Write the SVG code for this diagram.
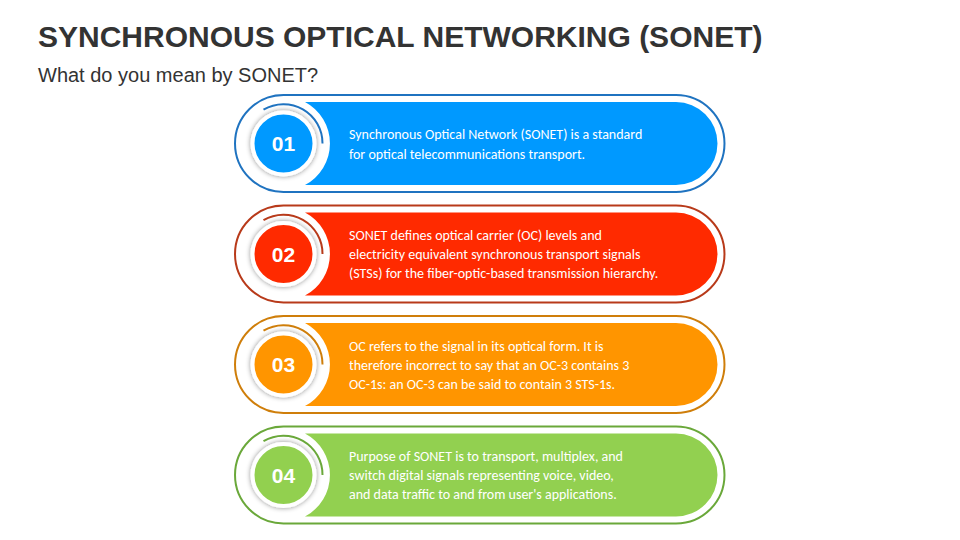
<svg xmlns="http://www.w3.org/2000/svg" width="960" height="540" viewBox="0 0 960 540">
<defs>
<filter id="sh" x="-30%" y="-30%" width="160%" height="160%"><feDropShadow dx="0" dy="0" stdDeviation="2.5" flood-color="#000" flood-opacity="0.45"/></filter>
<path id="band" d="M305,-41.5 H676 A41.5,41.5 0 0 1 676,41.5 H305 A47,47 0 0 0 305,-41.5 Z"/>
<path id="outline" d="M283.5,-48.5 H676 A48.5,48.5 0 0 1 676,48.5 H283.5 A48.5,48.5 0 0 1 283.5,-48.5 Z"/>
</defs>
<style>
.t{font-family:"Liberation Sans",Arial,sans-serif;}
.d{font-family:Calibri,"Liberation Sans",Arial,sans-serif;font-size:14px;fill:#fff;}
.n{font-family:"Liberation Sans",Arial,sans-serif;font-size:21px;font-weight:bold;fill:#fff;text-anchor:middle;}
.ol{fill:none;stroke-width:2;}
</style>
<rect width="960" height="540" fill="#fff"/>
<text class="t" x="38" y="47" font-size="30" font-weight="bold" fill="#333">SYNCHRONOUS OPTICAL NETWORKING (SONET)</text>
<text class="t" x="38" y="82" font-size="20" fill="#333">What do you mean by SONET?</text>
<g id="connectors"></g>
<g id="n1" transform="translate(0,143.5)">
<use href="#outline" class="ol" stroke="#1f73c0"/>
<use href="#band" fill="#0099ff"/>
<path d="M263.5,-33.8 A39,39 0 0 1 322.5,0" fill="none" stroke="#1f73c0" stroke-width="2"/>
<circle cx="283.5" cy="0" r="31" fill="#0099ff" stroke="#fff" stroke-width="4" filter="url(#sh)"/>
<text class="n" x="283.5" y="7.5">01</text>
<text class="d" x="349" y="-5">Synchronous Optical Network (SONET) is a standard</text>
<text class="d" x="349" y="15">for optical telecommunications transport.</text>
</g>
<g id="n2" transform="translate(0,254)">
<use href="#outline" class="ol" stroke="#b83a1a"/>
<use href="#band" fill="#ff2a00"/>
<path d="M263.5,-33.8 A39,39 0 0 1 322.5,0" fill="none" stroke="#b83a1a" stroke-width="2"/>
<circle cx="283.5" cy="0" r="31" fill="#ff2a00" stroke="#fff" stroke-width="4" filter="url(#sh)"/>
<text class="n" x="283.5" y="7.5">02</text>
<text class="d" x="349" y="-14">SONET defines optical carrier (OC) levels and</text>
<text class="d" x="349" y="5">electricity equivalent synchronous transport signals</text>
<text class="d" x="349" y="24">(STSs) for the fiber-optic-based transmission hierarchy.</text>
</g>
<g id="n3" transform="translate(0,364.5)">
<use href="#outline" class="ol" stroke="#cf7e0a"/>
<use href="#band" fill="#ff9500"/>
<path d="M263.5,-33.8 A39,39 0 0 1 322.5,0" fill="none" stroke="#cf7e0a" stroke-width="2"/>
<circle cx="283.5" cy="0" r="31" fill="#ff9500" stroke="#fff" stroke-width="4" filter="url(#sh)"/>
<text class="n" x="283.5" y="7.5">03</text>
<text class="d" x="349" y="-14">OC refers to the signal in its optical form. It is</text>
<text class="d" x="349" y="5">therefore incorrect to say that an OC-3 contains 3</text>
<text class="d" x="349" y="24">OC-1s: an OC-3 can be said to contain 3 STS-1s.</text>
</g>
<g id="n4" transform="translate(0,475)">
<use href="#outline" class="ol" stroke="#6aa83a"/>
<use href="#band" fill="#92d050"/>
<path d="M263.5,-33.8 A39,39 0 0 1 322.5,0" fill="none" stroke="#6aa83a" stroke-width="2"/>
<circle cx="283.5" cy="0" r="31" fill="#92d050" stroke="#fff" stroke-width="4" filter="url(#sh)"/>
<text class="n" x="283.5" y="7.5">04</text>
<text class="d" x="349" y="-14">Purpose of SONET is to transport, multiplex, and</text>
<text class="d" x="349" y="5">switch digital signals representing voice, video,</text>
<text class="d" x="349" y="24">and data traffic to and from user's applications.</text>
</g>
</svg>
